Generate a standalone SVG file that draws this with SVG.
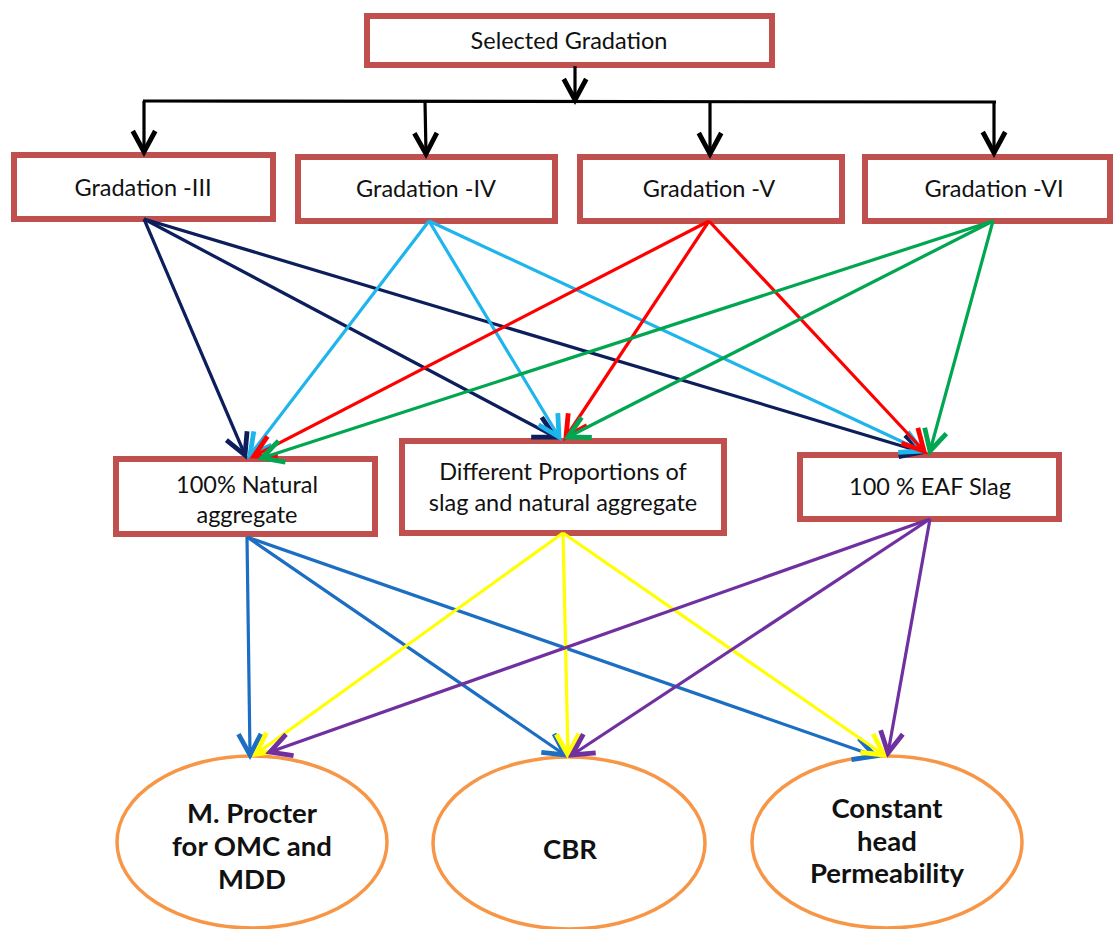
<svg xmlns="http://www.w3.org/2000/svg" width="1115" height="929" viewBox="0 0 1115 929">
<style>
.box{fill:#fff;stroke:#C0504D;stroke-width:6}
.ell{fill:#fff;stroke:#F79646;stroke-width:3.5}
.t{font-family:Lato,"Liberation Sans",sans-serif;font-size:23.5px;fill:#111;text-anchor:middle}
.b{font-family:Lato,"Liberation Sans",sans-serif;font-size:27.5px;font-weight:bold;fill:#111;text-anchor:middle}
.c line{stroke-width:3.2;fill:none}
</style>
<defs>
<marker id="mk" markerUnits="userSpaceOnUse" markerWidth="30" markerHeight="30" refX="0" refY="0" viewBox="-16 -10 20 20" orient="auto"><path d="M-14,-7.5 L0,0 L-14,7.5" fill="none" stroke="#000" stroke-width="3.2"/></marker>
<marker id="mn" markerUnits="userSpaceOnUse" markerWidth="30" markerHeight="30" refX="0" refY="0" viewBox="-16 -10 20 20" orient="auto"><path d="M-14,-7.5 L0,0 L-14,7.5" fill="none" stroke="#0C1E5B" stroke-width="3.2"/></marker>
<marker id="ml" markerUnits="userSpaceOnUse" markerWidth="30" markerHeight="30" refX="0" refY="0" viewBox="-16 -10 20 20" orient="auto"><path d="M-14,-7.5 L0,0 L-14,7.5" fill="none" stroke="#1EB4EC" stroke-width="3.2"/></marker>
<marker id="mr" markerUnits="userSpaceOnUse" markerWidth="30" markerHeight="30" refX="0" refY="0" viewBox="-16 -10 20 20" orient="auto"><path d="M-14,-7.5 L0,0 L-14,7.5" fill="none" stroke="#FF0000" stroke-width="3.2"/></marker>
<marker id="mg" markerUnits="userSpaceOnUse" markerWidth="30" markerHeight="30" refX="0" refY="0" viewBox="-16 -10 20 20" orient="auto"><path d="M-14,-7.5 L0,0 L-14,7.5" fill="none" stroke="#00A650" stroke-width="3.2"/></marker>
<marker id="mb" markerUnits="userSpaceOnUse" markerWidth="30" markerHeight="30" refX="0" refY="0" viewBox="-16 -10 20 20" orient="auto"><path d="M-14,-7.5 L0,0 L-14,7.5" fill="none" stroke="#1B6EC2" stroke-width="3.2"/></marker>
<marker id="my" markerUnits="userSpaceOnUse" markerWidth="30" markerHeight="30" refX="0" refY="0" viewBox="-16 -10 20 20" orient="auto"><path d="M-14,-7.5 L0,0 L-14,7.5" fill="none" stroke="#FFFF00" stroke-width="3.2"/></marker>
<marker id="mp" markerUnits="userSpaceOnUse" markerWidth="30" markerHeight="30" refX="0" refY="0" viewBox="-16 -10 20 20" orient="auto"><path d="M-14,-7.5 L0,0 L-14,7.5" fill="none" stroke="#7030A0" stroke-width="3.2"/></marker>
</defs>
<rect width="1115" height="929" fill="#fff"/>

<g id="n-selected"><rect class="box" x="367" y="16" width="405" height="49"/><text class="t" x="569" y="49">Selected Gradation</text></g>
<g id="n-g3"><rect class="box" x="14" y="155" width="259" height="64"/><text class="t" x="143" y="196">Gradation -III</text></g>
<g id="n-g4"><rect class="box" x="298" y="157" width="257" height="64"/><text class="t" x="426" y="197">Gradation -IV</text></g>
<g id="n-g5"><rect class="box" x="580" y="157" width="262" height="64"/><text class="t" x="709" y="197">Gradation -V</text></g>
<g id="n-g6"><rect class="box" x="865" y="157" width="245" height="64"/><text class="t" x="994" y="197">Gradation -VI</text></g>

<g id="n-natural"><rect class="box" x="116" y="459" width="259" height="75"/><text class="t" x="247" y="493">100% Natural</text><text class="t" x="247" y="523">aggregate</text></g>
<g id="n-different"><rect class="box" x="402" y="441" width="322" height="92"/><text class="t" x="563" y="480">Different Proportions of</text><text class="t" x="563" y="511">slag and natural aggregate</text></g>
<g id="n-eaf"><rect class="box" x="800" y="455" width="259" height="64"/><text class="t" x="930" y="495">100 % EAF Slag</text></g>

<g id="n-procter"><ellipse class="ell" cx="252" cy="842" rx="135" ry="86"/><text class="b" x="252" y="823">M. Procter</text><text class="b" x="252" y="856">for OMC and</text><text class="b" x="252" y="889">MDD</text></g>
<g id="n-cbr"><ellipse class="ell" cx="569" cy="843" rx="136" ry="86"/><text class="b" x="570" y="859">CBR</text></g>
<g id="n-perm"><ellipse class="ell" cx="887" cy="842" rx="135" ry="86"/><text class="b" x="887" y="818">Constant</text><text class="b" x="887" y="851">head</text><text class="b" x="887" y="883">Permeability</text></g>

<g id="connectors" class="c">
<line x1="575" y1="66" x2="575" y2="100" stroke="#000" marker-end="url(#mk)"/>
<line x1="143" y1="101" x2="996" y2="102" stroke="#000"/>
<line x1="144" y1="101" x2="144" y2="152" stroke="#000" marker-end="url(#mk)"/>
<line x1="425" y1="101" x2="426" y2="154" stroke="#000" marker-end="url(#mk)"/>
<line x1="710" y1="102" x2="710" y2="154" stroke="#000" marker-end="url(#mk)"/>
<line x1="994" y1="102" x2="994" y2="153" stroke="#000" marker-end="url(#mk)"/>

<line x1="144" y1="219" x2="245" y2="455" stroke="#0C1E5B" marker-end="url(#mn)"/>
<line x1="144" y1="219" x2="555" y2="437" stroke="#0C1E5B" marker-end="url(#mn)"/>
<line x1="144" y1="219" x2="922" y2="452" stroke="#0C1E5B" marker-end="url(#mn)"/>

<line x1="429" y1="221" x2="250" y2="455" stroke="#1EB4EC" marker-end="url(#ml)"/>
<line x1="429" y1="221" x2="559" y2="437" stroke="#1EB4EC" marker-end="url(#ml)"/>
<line x1="429" y1="221" x2="922" y2="451" stroke="#1EB4EC" marker-end="url(#ml)"/>

<line x1="709" y1="221" x2="254" y2="456" stroke="#FF0000" marker-end="url(#mr)"/>
<line x1="709" y1="221" x2="566" y2="437" stroke="#FF0000" marker-end="url(#mr)"/>
<line x1="709" y1="221" x2="924" y2="451" stroke="#FF0000" marker-end="url(#mr)"/>

<line x1="993" y1="221" x2="262" y2="458" stroke="#00A650" marker-end="url(#mg)"/>
<line x1="993" y1="221" x2="568" y2="437" stroke="#00A650" marker-end="url(#mg)"/>
<line x1="993" y1="221" x2="930" y2="451" stroke="#00A650" marker-end="url(#mg)"/>

<line x1="247" y1="537" x2="250" y2="755" stroke="#1B6EC2" marker-end="url(#mb)"/>
<line x1="247" y1="537" x2="565" y2="755" stroke="#1B6EC2" marker-end="url(#mb)"/>
<line x1="247" y1="537" x2="875" y2="756" stroke="#1B6EC2" marker-end="url(#mb)"/>

<line x1="563" y1="533" x2="256" y2="754" stroke="#FFFF00" marker-end="url(#my)"/>
<line x1="563" y1="533" x2="568" y2="755" stroke="#FFFF00" marker-end="url(#my)"/>
<line x1="563" y1="533" x2="884" y2="755" stroke="#FFFF00" marker-end="url(#my)"/>

<line x1="930" y1="519" x2="270" y2="752" stroke="#7030A0" marker-end="url(#mp)"/>
<line x1="930" y1="519" x2="572" y2="755" stroke="#7030A0" marker-end="url(#mp)"/>
<line x1="930" y1="519" x2="888" y2="753" stroke="#7030A0" marker-end="url(#mp)"/>
</g>
</svg>
